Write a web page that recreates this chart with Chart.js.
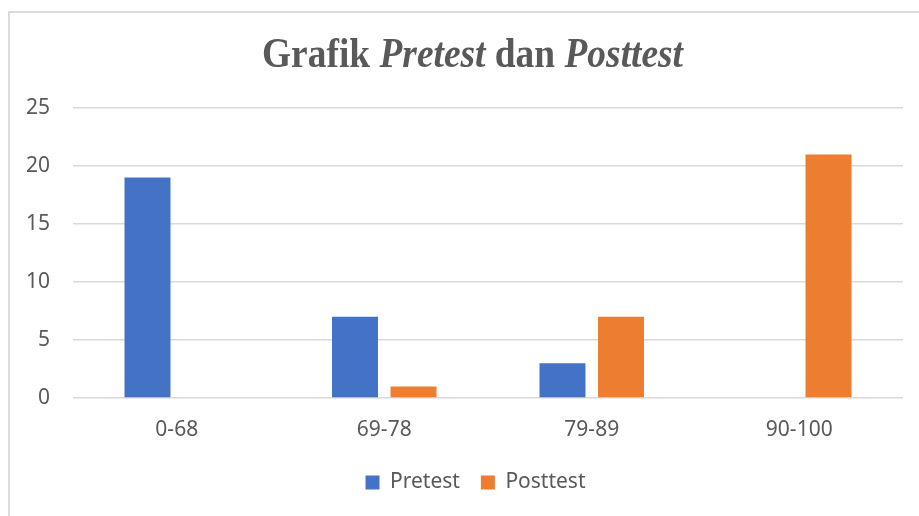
<!DOCTYPE html>
<html>
<head>
<meta charset="utf-8">
<script src="https://cdn.jsdelivr.net/npm/chart.js@4"></script>
<style>
  html, body { margin: 0; padding: 0; background: #fff; overflow: hidden; }
  #frame {
    position: absolute; left: 8px; top: 11px; width: 940px; height: 540px;
    border: 2px solid #dcdcdc; box-sizing: border-box;
  }
  #wrap { position: absolute; left: 0; top: 0; width: 919px; height: 516px; }
</style>
</head>
<body>
<div id="frame"></div>
<div id="wrap"><canvas id="chart" width="919" height="516"></canvas></div>
<script>
// Data
const categories = ["0-68", "69-78", "79-89", "90-100"];
const pretest = [19, 7, 3, 0];
const posttest = [0, 1, 7, 21];
const seriesNames = ["Pretest", "Posttest"];
// Title pieces: [text, italic]
const titleParts = [["Grafik ", false], ["Pretest", true], [" dan ", false], ["Posttest", true]];

const TEXT = "#595959";
const GRID = "#d9d9d9";
const FONT = "'Noto Sans', sans-serif";

// Mixed roman/italic title, drawn on the canvas (Chart.js title can't mix styles).
const mixedTitle = {
  id: "mixedTitle",
  afterDraw(chart) {
    const ctx = chart.ctx;
    const size = 42;
    const font = (it) => `${it ? "italic " : ""}bold ${size}px 'Liberation Serif', serif`;
    ctx.save();
    let total = 0;
    const widths = titleParts.map(([t, it]) => {
      ctx.font = font(it);
      const w = ctx.measureText(t).width;
      total += w;
      return w;
    });
    const target = 421;     // the reference title is horizontally condensed
    const sx = target / total;
    ctx.translate(472.5 - target / 2, 67);
    ctx.scale(sx, 1);
    ctx.fillStyle = TEXT;
    ctx.textBaseline = "alphabetic";
    let x = 0;
    titleParts.forEach(([t, it], i) => {
      ctx.font = font(it);
      ctx.fillText(t, x, 0);
      x += widths[i];
    });
    ctx.restore();
  },
};

// The legend in the reference is centred on the outer frame, not the plot.
const legendShift = {
  id: "legendShift",
  afterLayout(chart) {
    if (chart.legend) {
      chart.legend.left += 24;
      chart.legend.right += 24;
    }
  },
};

new Chart(document.getElementById("chart").getContext("2d"), {
  type: "bar",
  data: {
    labels: categories,
    datasets: [
      { label: seriesNames[0], data: pretest, backgroundColor: "#4472C4" },
      { label: seriesNames[1], data: posttest, backgroundColor: "#ED7D31" },
    ],
  },
  options: {
    responsive: false,
    animation: false,
    categoryPercentage: 0.564,
    barPercentage: 0.786,
    layout: { padding: { left: 0, right: 16, top: 108, bottom: 13 } },
    scales: {
      x: {
        grid: { display: false, drawTicks: false },
        border: { display: false },
        ticks: { color: TEXT, font: { family: FONT, size: 21 }, padding: 19 },
        afterFit(scale) { scale.height = 53; },
      },
      y: {
        min: 0,
        max: 25,
        ticks: { stepSize: 5, color: TEXT, font: { family: FONT, size: 21 }, padding: 23 },
        grid: { color: GRID, lineWidth: 1.5, drawTicks: false },
        border: { display: false },
        afterFit(scale) { scale.width = 73; },
      },
    },
    plugins: {
      legend: {
        position: "bottom",
        labels: {
          color: TEXT,
          font: { family: FONT, size: 21 },
          boxWidth: 14,
          boxHeight: 14,
          padding: 21,
        },
      },
      tooltip: { enabled: false },
    },
  },
  plugins: [mixedTitle, legendShift],
});
</script>
</body>
</html>
